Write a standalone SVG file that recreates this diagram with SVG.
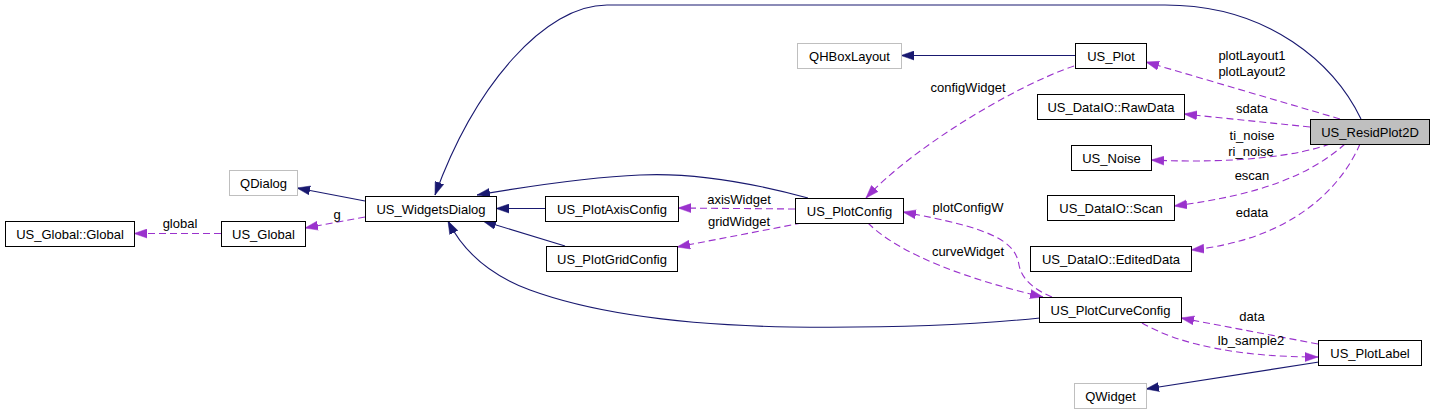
<svg xmlns="http://www.w3.org/2000/svg" width="1435" height="415" viewBox="0 0 1435 415">
<style>
.n rect{fill:#ffffff;stroke:#000000;stroke-width:1}
.n.ext rect{stroke:#bfbfbf}
.n.cur rect{fill:#bfbfbf}
text{font-family:"Liberation Sans",Arial,Helvetica,sans-serif;font-size:13px;fill:#000000;text-anchor:middle}
.inh{fill:none;stroke:#191970;stroke-width:1.1;marker-end:url(#an)}
.use{fill:none;stroke:#9a32cd;stroke-width:1.1;stroke-dasharray:7,4;marker-end:url(#ap)}
</style>
<defs>
<marker id="an" markerWidth="13" markerHeight="10" refX="13" refY="5" orient="auto" markerUnits="userSpaceOnUse"><path d="M0,0.5 L13,5 L0,9.5 z" fill="#191970" stroke="#191970" stroke-width="0.5"/></marker>
<marker id="ap" markerWidth="13" markerHeight="10" refX="13" refY="5" orient="auto" markerUnits="userSpaceOnUse"><path d="M0,0.5 L13,5 L0,9.5 z" fill="#9a32cd" stroke="#9a32cd" stroke-width="0.5"/></marker>
</defs>
<rect x="0" y="0" width="1435" height="415" fill="#ffffff"/>
<g id="connectors">
<path class="inh" d="M1361,119 C1335,65 1270,5 1165,5 L607,5 C545,5 475,85 435,195"/>
<path class="inh" d="M1075,55.5 L901,55.5"/>
<path class="inh" d="M808,198 C760,185 700,172 640,175 C590,177 530,186 477,195"/>
<path class="inh" d="M545,208.5 L496,208.5"/>
<path class="inh" d="M565,246 L483,221"/>
<path class="inh" d="M1040,318 C960,326 870,328 790,327 C680,325 590,312 530,290 C495,277 465,255 448,221"/>
<path class="inh" d="M1319,362 L1146,389"/>
<path class="inh" d="M365,201 L297,188"/>
<path class="use" d="M1340,119 L1146,62"/>
<path class="use" d="M1310,127 L1184,114"/>
<path class="use" d="M1330,144 C1300,155 1240,164 1151,160"/>
<path class="use" d="M1345,144 C1310,175 1260,195 1174,206"/>
<path class="use" d="M1360,144 C1340,190 1290,240 1191,250"/>
<path class="use" d="M1074,66 C1010,88 910,150 866,198"/>
<path class="use" d="M795,209 L678,208"/>
<path class="use" d="M802,223 L677,247"/>
<path class="use" d="M1052,297 C1035,290 1022,280 1019,265 C1015,240 990,228 903,212"/>
<path class="use" d="M868,223 C900,255 970,280 1043,297"/>
<path class="use" d="M1318,344 L1181,318"/>
<path class="use" d="M1142,323 C1180,345 1240,357 1318,357"/>
<path class="use" d="M365,217 L305,228"/>
<path class="use" d="M221,233.5 L134,233.5"/>
<text x="1252" y="59.5">plotLayout1</text>
<text x="1252" y="75.5">plotLayout2</text>
<text x="1252" y="113">sdata</text>
<text x="1252" y="140">ti_noise</text>
<text x="1251" y="155.5">ri_noise</text>
<text x="1252" y="180">escan</text>
<text x="1252" y="217">edata</text>
<text x="968" y="92">configWidget</text>
<text x="739" y="204">axisWidget</text>
<text x="739" y="226">gridWidget</text>
<text x="968" y="212">plotConfigW</text>
<text x="968" y="256">curveWidget</text>
<text x="1252" y="321">data</text>
<text x="1251" y="345">lb_sample2</text>
<text x="337" y="219">g</text>
<text x="180" y="228">global</text>
</g>
<g id="US_ResidPlot2D" class="n cur"><rect x="1310.5" y="119.5" width="119" height="25"/><text x="1370" y="136.5">US_ResidPlot2D</text></g>
<g id="US_Plot" class="n"><rect x="1075.5" y="43.5" width="71" height="25"/><text x="1111" y="60.5">US_Plot</text></g>
<g id="QHBoxLayout" class="n ext"><rect x="797.5" y="43.5" width="104" height="25"/><text x="849.5" y="60.5">QHBoxLayout</text></g>
<g id="US_DataIO_RawData" class="n"><rect x="1037.5" y="94.5" width="147" height="25"/><text x="1111" y="111.5">US_DataIO::RawData</text></g>
<g id="US_Noise" class="n"><rect x="1071.5" y="145.5" width="80" height="25"/><text x="1111.5" y="162.5">US_Noise</text></g>
<g id="US_DataIO_Scan" class="n"><rect x="1047.5" y="195.5" width="127" height="25"/><text x="1111" y="212.5">US_DataIO::Scan</text></g>
<g id="US_DataIO_EditedData" class="n"><rect x="1030.5" y="246.5" width="161" height="25"/><text x="1111" y="263.5">US_DataIO::EditedData</text></g>
<g id="US_PlotCurveConfig" class="n"><rect x="1039.5" y="297.5" width="142" height="25"/><text x="1110.5" y="314.5">US_PlotCurveConfig</text></g>
<g id="US_PlotLabel" class="n"><rect x="1318.5" y="340.5" width="103" height="25"/><text x="1370" y="357.5">US_PlotLabel</text></g>
<g id="QWidget" class="n ext"><rect x="1074.5" y="383.5" width="72" height="25"/><text x="1110.5" y="400.5">QWidget</text></g>
<g id="US_PlotConfig" class="n"><rect x="795.5" y="198.5" width="108" height="25"/><text x="849.5" y="215.5">US_PlotConfig</text></g>
<g id="US_PlotAxisConfig" class="n"><rect x="545.5" y="196.5" width="133" height="25"/><text x="612" y="213.5">US_PlotAxisConfig</text></g>
<g id="US_PlotGridConfig" class="n"><rect x="546.5" y="246.5" width="131" height="25"/><text x="612" y="263.5">US_PlotGridConfig</text></g>
<g id="US_WidgetsDialog" class="n"><rect x="365.5" y="196.5" width="131" height="25"/><text x="431" y="213.5">US_WidgetsDialog</text></g>
<g id="QDialog" class="n ext"><rect x="229.5" y="170.5" width="68" height="25"/><text x="263.5" y="187.5">QDialog</text></g>
<g id="US_Global" class="n"><rect x="221.5" y="221.5" width="84" height="25"/><text x="263.5" y="238.5">US_Global</text></g>
<g id="US_Global_Global" class="n"><rect x="5.5" y="221.5" width="129" height="25"/><text x="70" y="238.5">US_Global::Global</text></g>
</svg>
